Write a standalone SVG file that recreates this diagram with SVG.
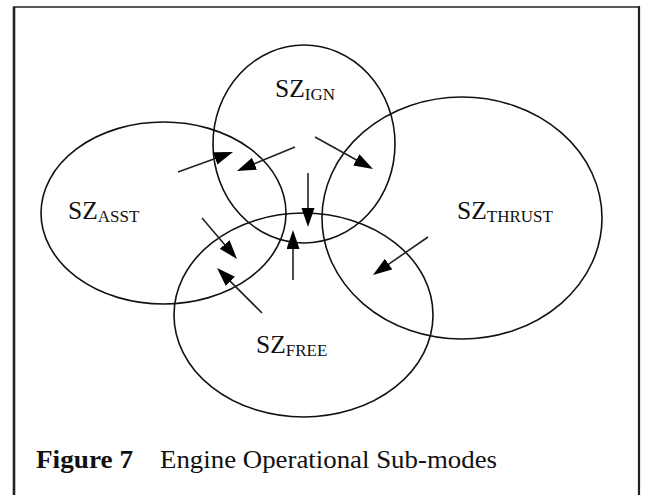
<svg xmlns="http://www.w3.org/2000/svg" width="645" height="495" viewBox="0 0 645 495">
  <style>
    .zone { fill: none; stroke: #111; stroke-width: 1.6; }
    .lbl { font-family: "Liberation Serif", "Times New Roman", serif; font-size: 25.5px; fill: #111; }
    .sub { font-size: 17px; }
    .flow { stroke: #222; stroke-width: 1.6; fill: none; marker-end: url(#ah); }
    .frame { stroke: #222; fill: none; }
    .cap { font-family: "Liberation Serif", "Times New Roman", serif; font-size: 25px; fill: #111; }
  </style>
  <defs>
    <marker id="ah" markerUnits="userSpaceOnUse" markerWidth="20" markerHeight="14" refX="9" refY="6.5" orient="auto">
      <path d="M0,0 L19,6.5 L0,13 z" fill="#000"/>
    </marker>
  </defs>
  <rect width="645" height="495" fill="#fff"/>

  <!-- page frame -->
  <g id="frame">
    <line class="frame" x1="14" y1="7" x2="14" y2="495" stroke-width="2.6"/>
    <line class="frame" x1="13" y1="7" x2="640" y2="7" stroke-width="1.5"/>
    <line class="frame" x1="639" y1="6" x2="639" y2="495" stroke-width="2.2"/>
  </g>

  <!-- sub-mode zones -->
  <g id="sz-ign">
    <ellipse class="zone" cx="304" cy="144" rx="91" ry="99"/>
    <text class="lbl" x="275" y="97">SZ<tspan class="sub" dy="3">IGN</tspan></text>
  </g>
  <g id="sz-asst">
    <ellipse class="zone" cx="163.5" cy="213" rx="122.5" ry="91"/>
    <text class="lbl" x="68" y="219">SZ<tspan class="sub" dy="3">ASST</tspan></text>
  </g>
  <g id="sz-thrust">
    <ellipse class="zone" cx="462" cy="218" rx="140" ry="121"/>
    <text class="lbl" x="457" y="219">SZ<tspan class="sub" dy="3">THRUST</tspan></text>
  </g>
  <g id="sz-free">
    <ellipse class="zone" cx="303.5" cy="315" rx="129.5" ry="102"/>
    <text class="lbl" x="256" y="353">SZ<tspan class="sub" dy="3">FREE</tspan></text>
  </g>

  <!-- transitions between sub-modes -->
  <g id="transitions">
    <line class="flow" x1="178" y1="172" x2="223.6" y2="155.4"/>
    <line class="flow" x1="295" y1="147" x2="246.2" y2="167.2"/>
    <line class="flow" x1="315" y1="137" x2="364.2" y2="164.2"/>
    <line class="flow" x1="428" y1="237" x2="381.2" y2="269.3"/>
    <line class="flow" x1="308" y1="173" x2="308" y2="217"/>
    <line class="flow" x1="293" y1="280" x2="293" y2="240"/>
    <line class="flow" x1="202" y1="218" x2="230.5" y2="251.4"/>
    <line class="flow" x1="262" y1="313" x2="224.1" y2="275.1"/>
  </g>

  <!-- caption -->
  <g id="caption">
    <text class="cap" x="36" y="468" font-weight="bold" textLength="97" lengthAdjust="spacingAndGlyphs">Figure 7</text>
    <text class="cap" x="160" y="468" textLength="337" lengthAdjust="spacingAndGlyphs">Engine Operational Sub-modes</text>
  </g>
</svg>
